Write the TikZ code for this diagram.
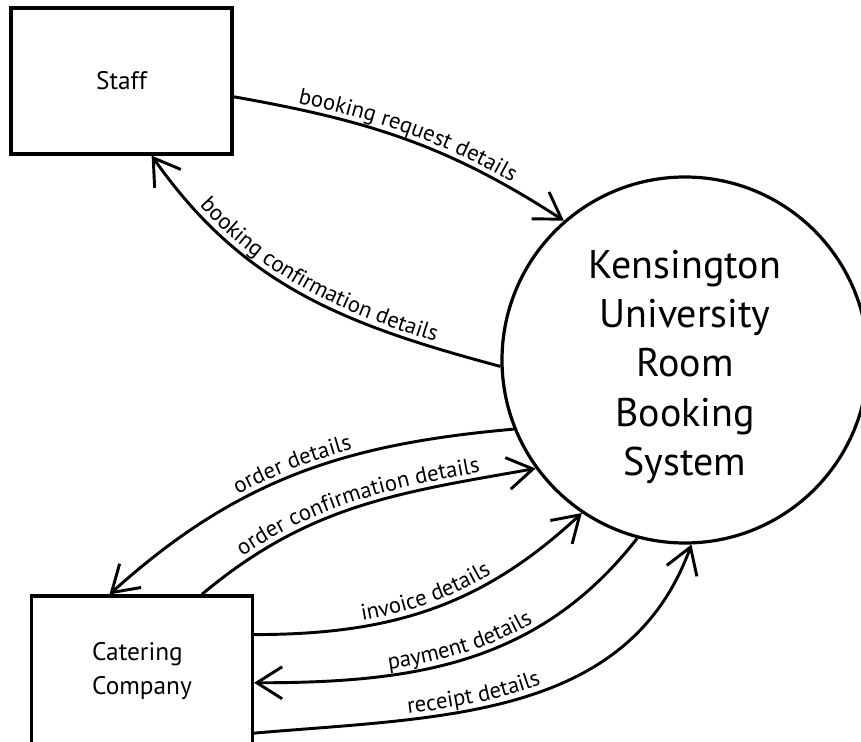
\documentclass[tikz,border=0pt]{standalone}
\usepackage{fontspec}
\setmainfont{PT Sans}
\usetikzlibrary{arrows.meta, decorations.text}

\newcommand\flowfont{\fontsize{17}{20}\selectfont}

\begin{document}
\begin{tikzpicture}[
    x=0.75pt, y=-0.75pt,
    entity/.style={draw, line width=2.4pt, minimum width=165.75pt, minimum height=109.5pt, align=left, font=\fontsize{19}{25}\selectfont},
    process/.style={draw, circle, line width=2.4pt, minimum size=274.5pt},
    process text/.style={align=center, font=\fontsize{30}{37}\selectfont},
    flow/.style={line width=2.2pt, -{Straight Barb[length=19pt, width=24pt]}},
    label on/.style={postaction={decorate, decoration={text along path, text align=center, raise=4.5pt, text={|\flowfont|#1}}}},
    label back/.style={postaction={decorate, decoration={text along path, reverse path, text align=center, raise=4.5pt, text={|\flowfont|#1}}}}
  ]
  \useasboundingbox (0,0) rectangle (861,742);

  % process and external entities
  \node[process] (sys) at (685,360) {};
  \node[process text] (systext) at ([yshift=-5pt]sys.center) {Kensington\\University\\Room\\Booking\\System};
  \node[entity] (staff) at (121.5,81) {Staff};
  \node[entity, minimum height=112.5pt] (cater) at (142,671) {Catering\\Company};

  % staff flows
  \draw[flow, label on={booking request details}] (staff.-8) to[out=-10, in=147] (sys.131);
  \draw[flow, label back={booking confirmation details}] (sys.182) to[out=165, in=-55] (staff.-68);

  % catering flows
  \draw[flow, label back={order details}] (sys.202) to[out=185, in=42] (cater.113);
  \draw[flow, label on={order confirmation details}] (cater.52) to[out=40, in=190] (sys.216);
  \draw[flow, label on={invoice details}] (cater.18) to[out=0, in=223] (sys.236);
  \draw[flow, label back={payment details}] (sys.255) to[out=232, in=0] (cater.-6);
  \draw[flow, decoration={post length=45pt}, label on={receipt details}] (cater.-29) to[out=5, in=250] (sys.272);

\end{tikzpicture}
\end{document}
